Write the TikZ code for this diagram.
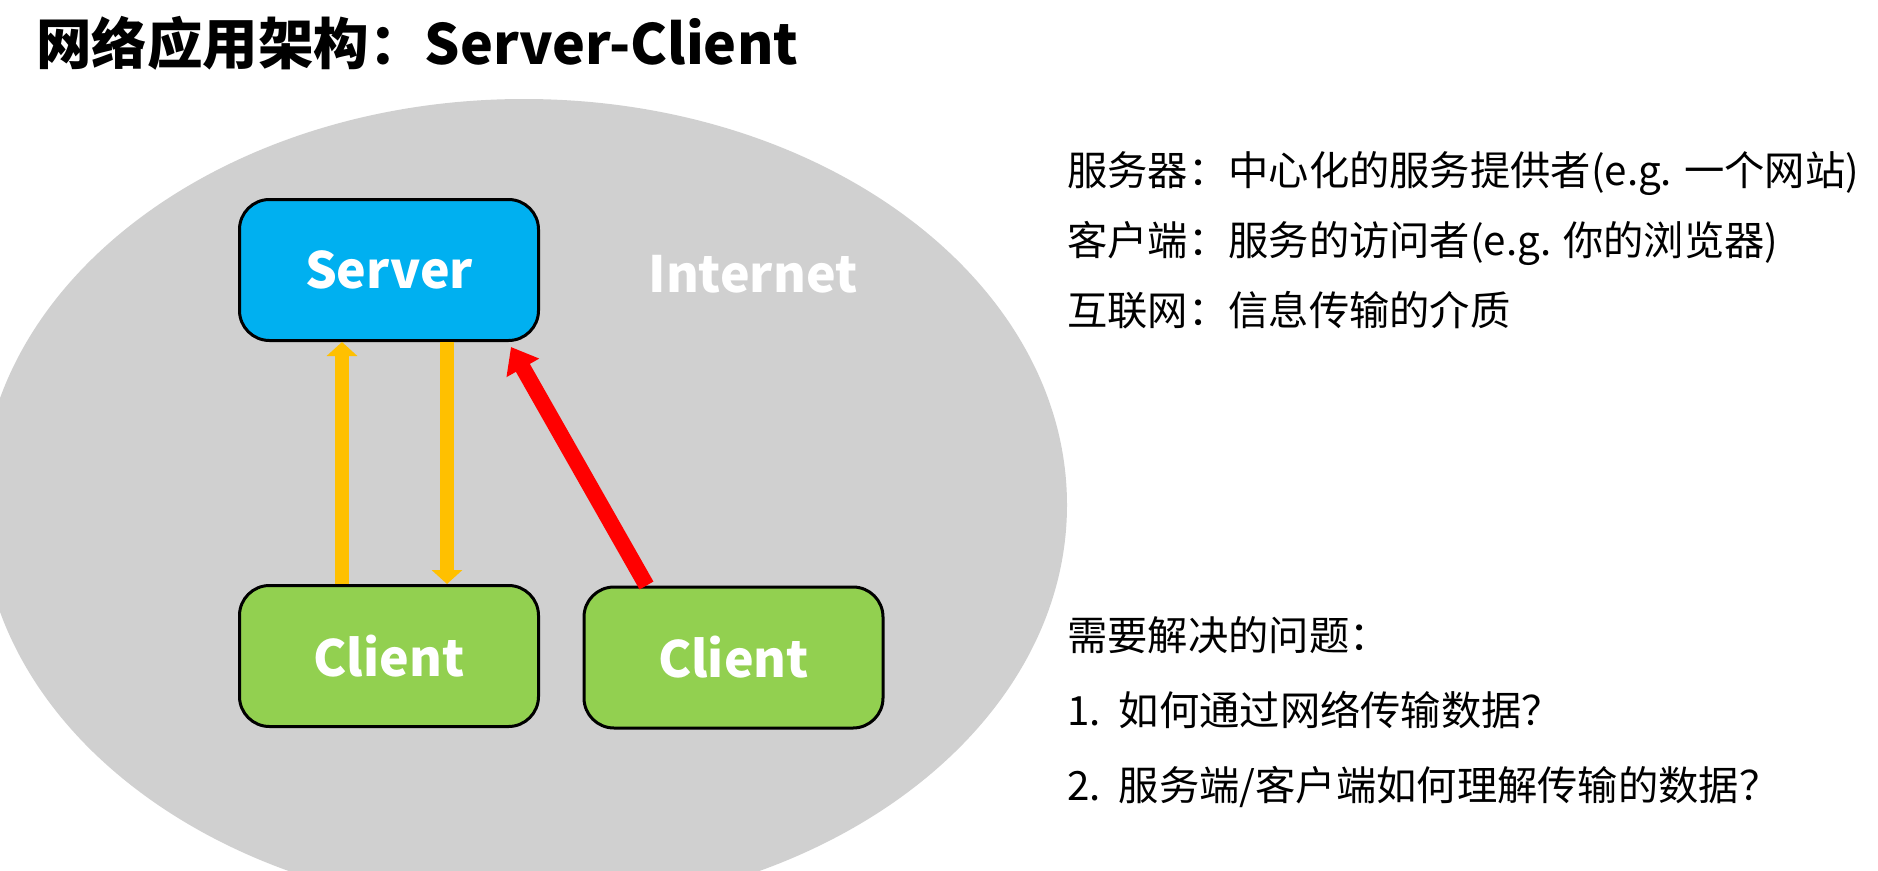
\documentclass[tikz,border=0pt]{standalone}
\usepackage{fontspec}
\setmainfont{Noto Sans CJK SC}
\usetikzlibrary{arrows.meta}
\definecolor{srvblue}{HTML}{00B0F0}
\definecolor{cligreen}{HTML}{92D050}
\definecolor{arrowyellow}{HTML}{FFC000}
\definecolor{arrowred}{HTML}{FF0000}
\definecolor{netgray}{HTML}{D0D0D0}
\begin{document}
\begin{tikzpicture}[x=1pt,y=-1pt,
  box/.style={draw=black, line width=3pt, rounded corners=30pt,
    minimum width=299pt, minimum height=141pt, inner sep=0pt,
    font=\fontsize{50}{56}\selectfont\bfseries, text=white},
  srvbox/.style={box, fill=srvblue},
  clibox/.style={box, fill=cligreen},
  yarrow/.style={draw=arrowyellow, line width=14pt,
    -{Triangle[width=30pt,length=14pt]}, arrowyellow},
  rarrow/.style={draw=arrowred, line width=16pt,
    -{Triangle[width=36pt,length=24pt]}, arrowred},
  txt/.style={anchor=base west, inner sep=0pt, font=\fontsize{40.3}{46}\selectfont},
  ttl/.style={anchor=base west, inner sep=0pt, font=\fontsize{55.5}{60}\selectfont\bfseries}
]
\useasboundingbox (0,0) rectangle (1878,870);
\clip (0,0) rectangle (1878,870);
\fill[white] (0,0) rectangle (1878,870);
\fill[netgray] (524,505) ellipse [x radius=543, y radius=406];

\node[ttl] (title) at (36,64) {网络应用架构：Server-Client};

\node[srvbox] (server) at (389,270) {Server};
\node[clibox] (c1) at (389,656) {Client};
\node[clibox] (c2) at (733.5,657.5) {Client};
\node[anchor=center, inner sep=0pt, text=white, font=\fontsize{50}{56}\selectfont\bfseries] (net) at (753,274) {Internet};

\draw[yarrow] ([xshift=104pt]c1.north west) -- ([xshift=104pt]server.south west);
\draw[yarrow] ([xshift=209pt]server.south west) -- ([xshift=209pt]c1.north west);
\draw[rarrow] ([xshift=64pt]c2.north west) -- ([xshift=-29pt,yshift=-5pt]server.south east);

\node[txt] (t1) at (1067,185) {服务器：中心化的服务提供者(e.g. 一个网站)};
\node[txt] (t2) at (1067,255) {客户端：服务的访问者(e.g. 你的浏览器)};
\node[txt] (t3) at (1067,325) {互联网：信息传输的介质};
\node[txt] (q0) at (1067,650) {需要解决的问题：};
\node[txt] (q1) at (1067,725) {1.\ \ 如何通过网络传输数据？};
\node[txt] (q2) at (1067,800) {2.\ \ 服务端/客户端如何理解传输的数据？};
\end{tikzpicture}
\end{document}
